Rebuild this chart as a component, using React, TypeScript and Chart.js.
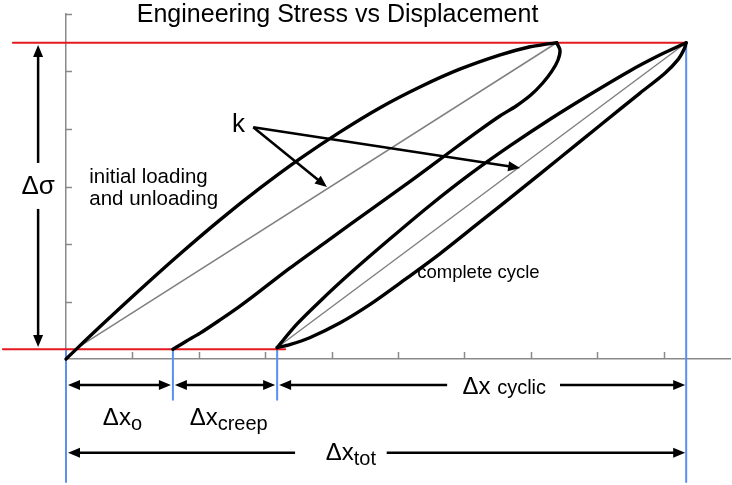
import React, { useEffect, useRef } from 'react';
import { Chart, registerables } from 'chart.js';

Chart.register(...registerables);

// ---- axes ----
const X_MIN = 0;
const X_MAX = 10;
const Y_MIN = 0;
const Y_MAX = 6;

// ---- loop 1: initial loading and unloading ----
const loop1LoadX = [0, 0.51, 1.11, 1.72, 2.32, 2.92, 3.52, 4.13, 4.73, 5.33, 5.93, 6.54, 6.99, 7.26, 7.39];
const loop1LoadY = [0, 0.56, 1.2, 1.83, 2.42, 2.97, 3.48, 3.95, 4.37, 4.73, 5.04, 5.29, 5.43, 5.48, 5.5];
const loop1UnloadX = [7.39, 7.44, 7.41, 7.32, 7.18, 7.0, 6.78, 6.54, 6.23, 5.78, 5.23, 4.58, 3.98, 3.37, 2.92, 2.62, 2.32, 2.02, 1.81, 1.61];
const loop1UnloadY = [5.5, 5.37, 5.2, 5.01, 4.8, 4.59, 4.4, 4.23, 3.98, 3.6, 3.13, 2.59, 2.09, 1.58, 1.18, 0.92, 0.68, 0.45, 0.31, 0.17];
const loop1StiffX = [0.14, 7.39];
const loop1StiffY = [0.17, 5.5];

// ---- loop 2: complete cycle ----
const loop2UpperX = [3.18, 3.48, 3.83, 4.28, 4.88, 5.48, 6.08, 6.69, 7.29, 7.89, 8.49, 8.95, 9.34];
const loop2UpperY = [0.2, 0.61, 1.01, 1.49, 2.09, 2.67, 3.21, 3.71, 4.17, 4.6, 5.01, 5.29, 5.5];
const loop2LowerX = [3.18, 3.37, 3.67, 4.13, 4.58, 5.03, 5.63, 6.23, 6.84, 7.44, 8.04, 8.64, 9.02, 9.22, 9.31, 9.34];
const loop2LowerY = [0.2, 0.25, 0.37, 0.63, 0.95, 1.32, 1.83, 2.38, 2.94, 3.5, 4.06, 4.62, 4.97, 5.21, 5.39, 5.5];
const loop2StiffX = [3.18, 9.34];
const loop2StiffY = [0.2, 5.5];

// ---- reference levels ----
const sigmaMax = 5.5;
const sigmaMin = 0.17;
const topRefX = [-0.8, 9.34];
const bottomRefX = [-0.95, 3.3];
const xStart = 0;
const xCreepStart = 1.61;
const xCycleStart = 3.18;
const xEnd = 9.34;
const guideBottomLong = -2.14;
const guideBottomShort = -0.71;

// ---- dimension rows ----
const row1Y = -0.45;
const row2Y = -1.63;
const cyclicGap = [5.74, 7.44];
const totGap = [3.45, 4.83];

// ---- labels ----
const titleText = 'Engineering Stress vs Displacement';
const titlePos = [4.09, 5.86];
const sigmaLabelPos = [-0.42, 3.0];
const sigmaArrowUp = [3.41, 5.46];
const sigmaArrowDown = [2.61, 0.21];
const kPos = [2.5, 3.95];
const kFrom = [2.82, 4.03];
const kTo1 = [3.93, 2.99];
const kTo2 = [6.84, 3.32];
const initialLines = ['initial loading', 'and unloading'];
const initialPos = [0.35, 3.06, 2.68];
const cycleLabel = 'complete cycle';
const cyclePos = [5.29, 1.41];
const dxOPos = [0.85, -1.15];
const dxCreepPos = [2.45, -1.15];
const dxCyclicPos = [6.6, -0.6];
const dxTotPos = [4.29, -1.76];

const FONT = '"Liberation Sans", Arial, Helvetica, sans-serif';
const BLACK = '#000000';
const GRAY = '#808080';
const RED = '#e3191f';
const BLUE = '#5b8ff2';
const AXIS = '#8a8a8a';

const zip = (xs: number[], ys: number[]) => xs.map((v, i) => ({ x: v, y: ys[i] }));

function curve(data: { x: number; y: number }[], color: string, width: number, tension = 0.3) {
  return {
    data,
    showLine: true,
    borderColor: color,
    backgroundColor: color,
    borderWidth: width,
    borderCapStyle: 'round',
    borderJoinStyle: 'round',
    pointRadius: 0,
    pointHoverRadius: 0,
    tension,
    fill: false,
    clip: false as any,
  };
}

function drawArrowHead(ctx: CanvasRenderingContext2D, x1: number, y1: number, x2: number, y2: number, len = 12, half = 5) {
  const a = Math.atan2(y2 - y1, x2 - x1);
  ctx.beginPath();
  ctx.moveTo(x2, y2);
  ctx.lineTo(x2 - len * Math.cos(a) + half * Math.sin(a), y2 - len * Math.sin(a) - half * Math.cos(a));
  ctx.lineTo(x2 - len * Math.cos(a) - half * Math.sin(a), y2 - len * Math.sin(a) + half * Math.cos(a));
  ctx.closePath();
  ctx.fill();
}

function arrow(ctx: CanvasRenderingContext2D, x1: number, y1: number, x2: number, y2: number, startHead: boolean, endHead: boolean) {
  const len = 12;
  const a = Math.atan2(y2 - y1, x2 - x1);
  const sx = startHead ? x1 + (len - 2) * Math.cos(a) : x1;
  const sy = startHead ? y1 + (len - 2) * Math.sin(a) : y1;
  const ex = endHead ? x2 - (len - 2) * Math.cos(a) : x2;
  const ey = endHead ? y2 - (len - 2) * Math.sin(a) : y2;
  ctx.beginPath();
  ctx.moveTo(sx, sy);
  ctx.lineTo(ex, ey);
  ctx.stroke();
  if (endHead) drawArrowHead(ctx, x1, y1, x2, y2, len);
  if (startHead) drawArrowHead(ctx, x2, y2, x1, y1, len);
}

function subText(ctx: CanvasRenderingContext2D, main: string, sub: string, cx: number, base: number, mainSize: number, subSize: number, dy: number) {
  ctx.font = `${mainSize}px ${FONT}`;
  const w1 = ctx.measureText(main).width;
  ctx.font = `${subSize}px ${FONT}`;
  const w2 = ctx.measureText(sub).width;
  const left = cx - (w1 + w2) / 2;
  ctx.textAlign = 'left';
  ctx.textBaseline = 'alphabetic';
  ctx.font = `${mainSize}px ${FONT}`;
  ctx.fillText(main, left, base);
  ctx.font = `${subSize}px ${FONT}`;
  ctx.fillText(sub, left + w1, base + dy);
}

const annotations = {
  id: 'annotations',
  afterDatasetsDraw(chart: any) {
    const ctx: CanvasRenderingContext2D = chart.ctx;
    const xs = chart.scales.x;
    const ys = chart.scales.y;
    const px = (v: number) => xs.getPixelForValue(v);
    const py = (v: number) => ys.getPixelForValue(v);
    ctx.save();

    // inward tick marks
    ctx.strokeStyle = AXIS;
    ctx.lineWidth = 1.5;
    xs.ticks.forEach((t: any) => {
      if (t.value > X_MIN && t.value < X_MAX) {
        ctx.beginPath();
        ctx.moveTo(Math.round(px(t.value)) + 0.5, py(Y_MIN));
        ctx.lineTo(Math.round(px(t.value)) + 0.5, py(Y_MIN) - 7);
        ctx.stroke();
      }
    });
    ys.ticks.forEach((t: any) => {
      if (t.value > Y_MIN) {
        ctx.beginPath();
        ctx.moveTo(px(X_MIN), Math.round(py(t.value)) + 0.5);
        ctx.lineTo(px(X_MIN) + 6, Math.round(py(t.value)) + 0.5);
        ctx.stroke();
      }
    });

    ctx.fillStyle = BLACK;
    ctx.strokeStyle = BLACK;
    ctx.lineWidth = 2.5;

    // delta sigma arrows
    arrow(ctx, px(sigmaLabelPos[0]), py(sigmaArrowUp[0]), px(sigmaLabelPos[0]), py(sigmaArrowUp[1]), false, true);
    arrow(ctx, px(sigmaLabelPos[0]), py(sigmaArrowDown[0]), px(sigmaLabelPos[0]), py(sigmaArrowDown[1]), false, true);

    // dimension row 1
    const r1 = py(row1Y);
    arrow(ctx, px(xStart) + 2, r1, px(xCreepStart) - 2, r1, true, true);
    arrow(ctx, px(xCreepStart) + 2, r1, px(xCycleStart) - 2, r1, true, true);
    arrow(ctx, px(xCycleStart) + 2, r1, px(cyclicGap[0]), r1, true, false);
    arrow(ctx, px(cyclicGap[1]), r1, px(xEnd) - 1, r1, false, true);
    // dimension row 2
    const r2 = py(row2Y);
    arrow(ctx, px(xStart) + 2, r2, px(totGap[0]), r2, true, false);
    arrow(ctx, px(totGap[1]), r2, px(xEnd) - 1, r2, false, true);

    // k arrows
    arrow(ctx, px(kFrom[0]), py(kFrom[1]), px(kTo1[0]), py(kTo1[1]), false, true);
    arrow(ctx, px(kFrom[0]), py(kFrom[1]), px(kTo2[0]), py(kTo2[1]), false, true);

    // texts
    ctx.textBaseline = 'alphabetic';
    ctx.textAlign = 'center';
    ctx.font = `25px ${FONT}`;
    ctx.fillText(titleText, px(titlePos[0]), py(titlePos[1]));

    ctx.textBaseline = 'middle';
    ctx.font = `26px ${FONT}`;
    ctx.fillText('Δσ', px(sigmaLabelPos[0]), py(sigmaLabelPos[1]));

    ctx.textBaseline = 'alphabetic';
    ctx.textAlign = 'left';
    ctx.font = `26px ${FONT}`;
    ctx.fillText('k', px(kPos[0]), py(kPos[1]));

    ctx.font = `20.5px ${FONT}`;
    ctx.fillText(initialLines[0], px(initialPos[0]), py(initialPos[1]));
    ctx.fillText(initialLines[1], px(initialPos[0]), py(initialPos[2]));

    ctx.font = `18.5px ${FONT}`;
    ctx.fillText(cycleLabel, px(cyclePos[0]), py(cyclePos[1]));

    subText(ctx, 'Δx', 'o', px(dxOPos[0]), py(dxOPos[1]), 24, 20, 5);
    subText(ctx, 'Δx', 'creep', px(dxCreepPos[0]), py(dxCreepPos[1]), 24, 20, 5);
    subText(ctx, 'Δx', 'tot', px(dxTotPos[0]), py(dxTotPos[1]), 24, 20, 5);
    subText(ctx, 'Δx ', 'cyclic', px(dxCyclicPos[0]), py(dxCyclicPos[1]), 24, 20, 0);

    ctx.restore();
  },
};

export default function App() {
  const canvasRef = useRef<HTMLCanvasElement | null>(null);

  useEffect(() => {
    document.body.style.margin = '0';
    const canvas = canvasRef.current;
    if (!canvas) return;

    const datasets: any[] = [
      curve(zip(loop1LoadX, loop1LoadY), BLACK, 3.4),
      curve(zip(loop1UnloadX, loop1UnloadY), BLACK, 3.4),
      curve(zip(loop2UpperX, loop2UpperY), BLACK, 3.4),
      curve(zip(loop2LowerX, loop2LowerY), BLACK, 3.4),
      curve(zip(loop1StiffX, loop1StiffY), GRAY, 1.5, 0),
      curve(zip(loop2StiffX, loop2StiffY), GRAY, 1.5, 0),
      curve(zip(topRefX, [sigmaMax, sigmaMax]), RED, 2, 0),
      curve(zip(bottomRefX, [sigmaMin, sigmaMin]), RED, 2, 0),
      curve(zip([xStart, xStart], [sigmaMin, guideBottomLong]), BLUE, 2, 0),
      curve(zip([xCreepStart, xCreepStart], [sigmaMin, guideBottomShort]), BLUE, 2, 0),
      curve(zip([xCycleStart, xCycleStart], [sigmaMin, guideBottomShort]), BLUE, 2, 0),
      curve(zip([xEnd, xEnd], [sigmaMax, guideBottomLong]), BLUE, 2, 0),
    ];

    const chart = new Chart(canvas, {
      type: 'scatter',
      data: { datasets },
      options: {
        responsive: false,
        animation: false,
        events: [],
        layout: { padding: { left: 66, top: 14, right: 2, bottom: 126 } },
        plugins: { legend: { display: false }, tooltip: { enabled: false }, title: { display: false } },
        scales: {
          x: {
            type: 'linear',
            min: X_MIN,
            max: X_MAX,
            ticks: { display: false, stepSize: 1 },
            grid: { display: true, drawOnChartArea: false, drawTicks: false },
            border: { display: true, color: AXIS, width: 1.5 },
          },
          y: {
            type: 'linear',
            min: Y_MIN,
            max: Y_MAX,
            ticks: { display: false, stepSize: 1 },
            grid: { display: true, drawOnChartArea: false, drawTicks: false },
            border: { display: true, color: AXIS, width: 1.5 },
          },
        },
      },
      plugins: [annotations],
    });

    return () => chart.destroy();
  }, []);

  return (
    <div style={{ width: 732, height: 485, background: '#fff' }}>
      <canvas ref={canvasRef} width={732} height={485} style={{ display: 'block' }} />
    </div>
  );
}
